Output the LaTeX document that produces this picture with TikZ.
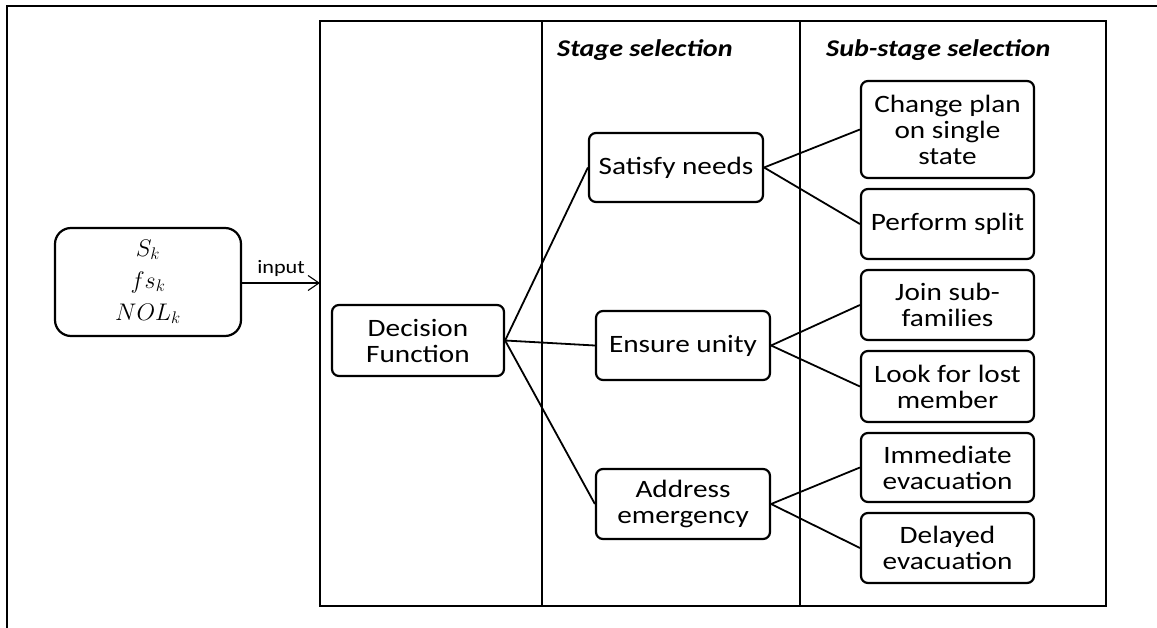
\RequirePackage{fix-cm}
\documentclass[tikz,border=0pt]{standalone}
\usepackage{fontspec}
\setmainfont{Carlito}[FakeStretch=1.17]
\usetikzlibrary{arrows.meta}
\begin{document}
\begin{tikzpicture}[x=1pt,y=-1pt,
  box/.style={draw, line width=2.2pt, rounded corners=7pt, align=center,
    inner sep=0pt, minimum width=174pt, minimum height=70pt,
    font=\fontsize{25}{26}\selectfont},
  link/.style={line width=1.8pt},
  header/.style={anchor=base west, inner sep=0pt,
    font=\fontsize{24}{26}\selectfont\bfseries\itshape}]
\useasboundingbox (0,0) rectangle (1157,628);

% page frame
\draw[line width=1.6pt] (7,628) -- (7,6) -- (1157,6);

% main panel with its three columns
\draw[line width=2pt] (320,21) rectangle (1106,606);
\draw[line width=1.2pt] (542,21) -- (542,606);
\draw[line width=1.2pt] (800,21) -- (800,606);
\node[header] (hstage) at (557,57) {Stage selection};
\node[header] (hsub) at (826,57) {Sub-stage selection};

% input variables
\node[draw, line width=2.2pt, rounded corners=16pt, minimum width=186pt,
  minimum height=108pt, inner sep=0pt, align=center,
  font=\fontsize{24}{32}\selectfont] (in) at (148,282)
  {$S_k$\\$fs_k$\\$NOL_k$};
\coordinate (entry) at (320,283);
\draw[line width=1.1pt, -{Straight Barb[length=11pt,width=15pt,line width=1.1pt]}]
  (in.east |- entry) -- (entry)
  node[midway, above=6pt, inner sep=0pt, font=\fontsize{19}{20}\selectfont] (lin) {input};

% decision function and stages
\node[box, minimum width=172pt, minimum height=71pt] (dec) at (418,340.5) {Decision\\Function};
\node[box, minimum height=69pt] (sat) at (676,167.5) {Satisfy needs};
\node[box, minimum height=69pt] (ens) at (683,345.5) {Ensure unity};
\node[box] (add) at (683,504) {Address\\emergency};

% sub-stages
\node[box, minimum width=173pt, minimum height=97pt] (chg) at (947.5,129.5) {Change plan\\on single\\state};
\node[box, minimum width=173pt] (spl) at (947.5,224) {Perform split};
\node[box, minimum width=173pt] (join) at (947.5,305) {Join sub-\\families};
\node[box, minimum width=173pt, minimum height=71pt] (look) at (947.5,386.5) {Look for lost\\member};
\node[box, minimum width=173pt, minimum height=69pt] (imm) at (947.5,467.5) {Immediate\\evacuation};
\node[box, minimum width=173pt] (del) at (947.5,548) {Delayed\\evacuation};

% connectors
\draw[link] (dec.east) -- (sat.west);
\draw[link] (dec.east) -- (ens.west);
\draw[link] (dec.east) -- (add.west);
\draw[link] (sat.east) -- (chg.west);
\draw[link] (sat.east) -- (spl.west);
\draw[link] (ens.east) -- (join.west);
\draw[link] (ens.east) -- (look.west);
\draw[link] (add.east) -- (imm.west);
\draw[link] (add.east) -- (del.west);
\end{tikzpicture}
\end{document}
